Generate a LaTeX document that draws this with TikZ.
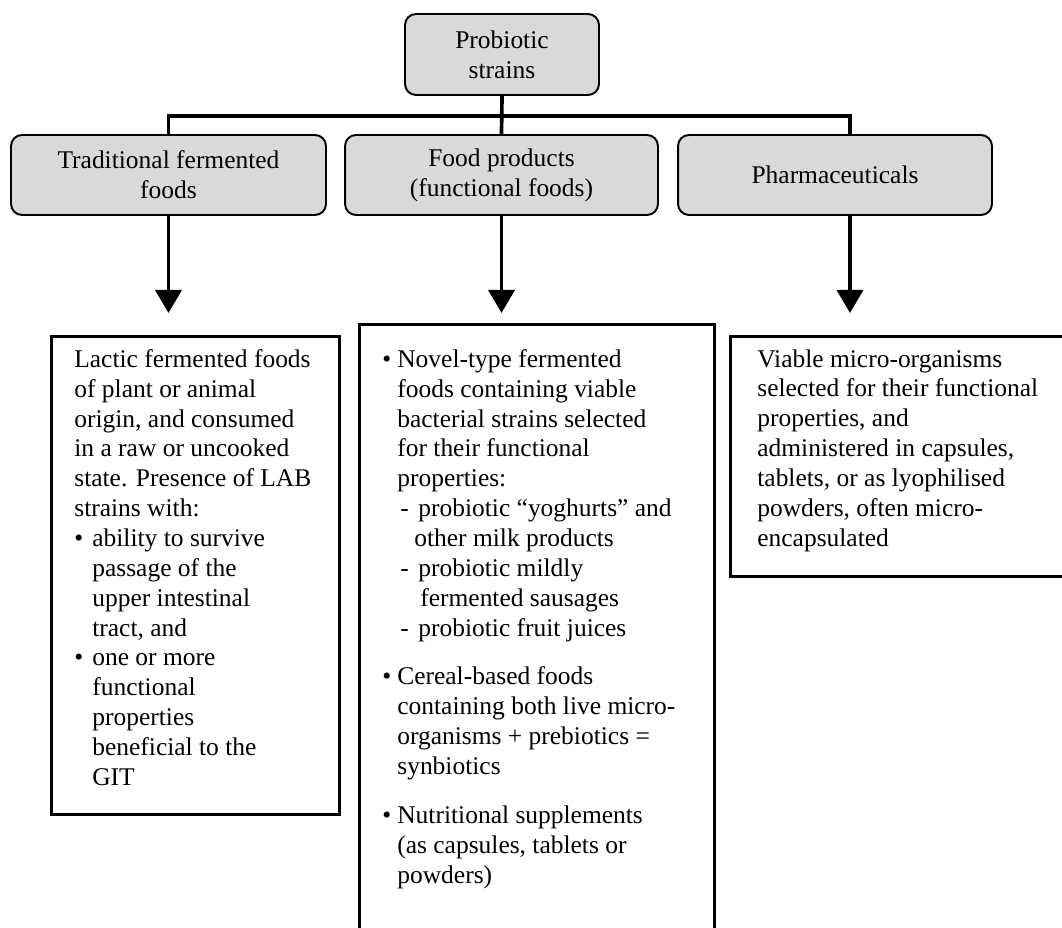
\documentclass[tikz,border=0pt]{standalone}
\usepackage{fontspec}
\setmainfont{Liberation Serif}
\usepackage{tikz}
\usetikzlibrary{arrows.meta,positioning}
\definecolor{boxgray}{RGB}{217,217,217}
\newcommand{\dotmark}[1]{\makebox[#1][l]{\textbullet}}
\newcommand{\dashmark}{\hspace*{0.36cm}\makebox[0.36cm][l]{-}}

\begin{document}
\begin{tikzpicture}[
    x=0.02cm, y=-0.02cm,
    font=\fontsize{14.5}{17}\selectfont,
    catbox/.style={
        rectangle,
        rounded corners=0.22cm,
        draw=black,
        line width=1.1pt,
        fill=boxgray,
        align=center,
        minimum height=1.6cm,
        inner sep=0pt
    },
    outbox/.style={
        rectangle,
        draw=black,
        line width=1.6pt,
        anchor=north west,
        inner sep=0pt
    },
    listtext/.style={
        anchor=north west,
        align=left,
        inner sep=0pt
    },
    tree/.style={line width=2.1pt},
    flow/.style={line width=2.1pt, -{Triangle[width=0.52cm,length=0.46cm]}}
]

\clip (0,0) rectangle (1062,928);

% Top box
\node[catbox, minimum width=3.88cm, minimum height=1.62cm] (strains) at (502,54.5) {Probiotic\\strains};

% Category boxes
\node[catbox, minimum width=6.3cm] (trad) at (168.5,175) {Traditional fermented\\foods};
\node[catbox, minimum width=6.26cm] (func) at (501.5,175) {Food products\\(functional foods)};
\node[catbox, minimum width=6.28cm] (pharma) at (835,175) {Pharmaceuticals};

% Branch lines
\coordinate (hub) at (502,116);
\coordinate (pharmain) at ([xshift=0.3cm]pharma.north);
\draw[tree] (strains.south) -- (func.north);
\draw[tree] (trad.north) -- (trad.north |- hub) -- (pharmain |- hub) -- (pharmain);

% Down arrows
\coordinate (tips) at (0,313);
\coordinate (pharmaout) at ([xshift=0.3cm]pharma.south);
\draw[flow] (trad.south) -- (trad.south |- tips);
\draw[flow] (func.south) -- (func.south |- tips);
\draw[flow] (pharmaout) -- (pharmaout |- tips);

% Description boxes
\node[outbox, minimum width=5.76cm, minimum height=9.56cm] (lactic) at (50,335) {};
\node[outbox, minimum width=7.1cm, minimum height=12.6cm] (novel) at (358,323) {};
\node[outbox, minimum width=7.2cm, minimum height=4.8cm] (viable) at (729,335) {};

% Description texts
\node[listtext] (lactictext) at (74,349) {Lactic fermented foods\\
    of plant or animal\\
    origin, and consumed\\
    in a raw or uncooked\\
    state. Presence of LAB\\
    strains with:\\
    \dotmark{0.36cm}ability to survive\\
    \hspace*{0.36cm}passage of the\\
    \hspace*{0.36cm}upper intestinal\\
    \hspace*{0.36cm}tract, and\\
    \dotmark{0.36cm}one or more\\
    \hspace*{0.36cm}functional\\
    \hspace*{0.36cm}properties\\
    \hspace*{0.36cm}beneficial to the\\
    \hspace*{0.36cm}GIT};

\node[listtext] (noveltext) at (382,349) {\dotmark{0.3cm}Novel-type fermented\\
    \hspace*{0.3cm}foods containing viable\\
    \hspace*{0.3cm}bacterial strains selected\\
    \hspace*{0.3cm}for their functional\\
    \hspace*{0.3cm}properties:\\
    \dashmark probiotic “yoghurts” and\\
    \hspace*{0.64cm}other milk products\\
    \dashmark probiotic mildly\\
    \hspace*{0.76cm}fermented sausages\\
    \dashmark probiotic fruit juices\\[0.38cm]
    \dotmark{0.3cm}Cereal-based foods\\
    \hspace*{0.3cm}containing both live micro-\\
    \hspace*{0.3cm}organisms + prebiotics =\\
    \hspace*{0.3cm}synbiotics\\[0.38cm]
    \dotmark{0.3cm}Nutritional supplements\\
    \hspace*{0.3cm}(as capsules, tablets or\\
    \hspace*{0.3cm}powders)};

\node[listtext] (viabletext) at (757,349) {Viable micro-organisms\\
    selected for their functional\\
    properties, and\\
    administered in capsules,\\
    tablets, or as lyophilised\\
    powders, often micro-\\
    encapsulated};

\end{tikzpicture}
\end{document}
